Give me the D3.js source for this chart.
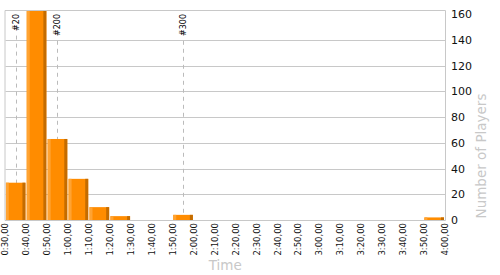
<!DOCTYPE html>
<html>
<head>
<meta charset="utf-8">
<script src="https://cdn.jsdelivr.net/npm/d3@7"></script>
<style>
  html, body { margin: 0; padding: 0; background: #fff; }
  svg { display: block; font-family: "DejaVu Sans", Verdana, sans-serif; }
</style>
</head>
<body>
<div id="chart"></div>
<script>
// Bin edges, minutes (0:30 .. 4:00 every 10 minutes)
const binEdges = d3.range(30, 241, 10);
// Count of players per 10-minute bin (bin start in minutes)
const binStarts = [30, 40, 50, 60, 70, 80, 110, 230];
const playerCounts = [29, 175, 63, 32, 10, 3, 4, 2];
// Rank markers (finish time in minutes)
const markerLabels = ['#20', '#200', '#300'];
const markerTimes = [34.9, 54.8, 114.9];
const yTicks = [0, 20, 40, 60, 80, 100, 120, 140, 160];
const yMax = 163.3;

const W = 500, H = 275;
const plotL = 5.5, plotR = 445, plotT = 10, plotB = 220;

const svg = d3.select('#chart').append('svg')
    .attr('width', W).attr('height', H);

const x = d3.scaleLinear().domain([30, 240]).range([plotL, plotR]);
const y = d3.scaleLinear().domain([0, yMax]).range([plotB, plotT]);

const fmt = m => `${Math.floor(m / 60)}:${String(m % 60).padStart(2, '0')},00`;

// Horizontal grid lines (top border stands in for 160)
svg.append('g').selectAll('line')
    .data(yTicks.filter(t => t > 0 && t < 160)).enter()
    .append('line')
    .attr('x1', plotL).attr('x2', plotR)
    .attr('y1', d => Math.round(y(d)) + 0.5).attr('y2', d => Math.round(y(d)) + 0.5)
    .attr('stroke', '#c8c8c8').attr('stroke-width', 1);

// Rank markers (behind the bars)
const mk = svg.append('g');
markerTimes.forEach((t, i) => {
    const mx = Math.round(x(t)) + 0.5;
    const textLen = markerLabels[i].length * 5.2 + 2;
    mk.append('line')
        .attr('x1', mx).attr('x2', mx)
        .attr('y1', 14 + textLen + 4).attr('y2', plotB)
        .attr('stroke', '#bbb').attr('stroke-dasharray', '4,4');
    mk.append('text')
        .attr('transform', `translate(${mx},14) rotate(-90)`)
        .attr('text-anchor', 'end')
        .attr('dy', '0.35em')
        .attr('font-size', '8px')
        .attr('fill', '#000')
        .text(markerLabels[i]);
});

// Bars, clipped to the plot area
svg.append('clipPath').attr('id', 'plot-clip')
    .append('rect').attr('x', plotL).attr('y', plotT + 0.5)
    .attr('width', plotR - plotL).attr('height', plotB - plotT);

const bw = x(40) - x(30);
const bars = svg.append('g').attr('clip-path', 'url(#plot-clip)')
    .selectAll('g')
    .data(binStarts.map((s, i) => ({ s, v: playerCounts[i] }))).enter()
    .append('g');

bars.append('rect')
    .attr('x', d => x(d.s) + 0.3)
    .attr('y', d => y(d.v))
    .attr('width', bw - 1.3)
    .attr('height', d => plotB - y(d.v))
    .attr('fill', '#ff8c00');
bars.append('rect')
    .attr('x', d => x(d.s) + 0.3)
    .attr('y', d => y(d.v))
    .attr('width', 3)
    .attr('height', d => plotB - y(d.v))
    .attr('fill', '#ffa332');
bars.append('rect')
    .attr('x', d => x(d.s) + bw - 4)
    .attr('y', d => y(d.v))
    .attr('width', 3)
    .attr('height', d => plotB - y(d.v))
    .attr('fill', '#c46c00');

// Plot frame
svg.append('path')
    .attr('fill', 'none').attr('stroke', '#c8c8c8')
    .attr('d', `M${plotL - 0.5},${plotT + 0.5}H${plotR + 0.5}V${plotB + 0.5}H${plotL - 0.5}V${plotT + 0.5}`);

// X tick labels
svg.append('g').selectAll('text')
    .data(binEdges).enter()
    .append('text')
    .attr('transform', d => `translate(${x(d)},223) rotate(-90)`)
    .attr('text-anchor', 'end')
    .attr('dy', '0.35em')
    .attr('font-size', '8.5px')
    .attr('fill', '#111')
    .text(fmt);

// Y tick labels (right side)
svg.append('g').selectAll('text')
    .data(yTicks).enter()
    .append('text')
    .attr('x', 451)
    .attr('y', d => y(d))
    .attr('dy', '0.36em')
    .attr('font-size', '11px')
    .attr('fill', '#111')
    .text(d => d);

// Axis titles
svg.append('text')
    .attr('x', (plotL + plotR) / 2).attr('y', 270)
    .attr('text-anchor', 'middle')
    .attr('font-size', '13.5px')
    .attr('fill', '#c8c8c8')
    .text('Time');

svg.append('text')
    .attr('transform', 'translate(481,156) rotate(-90)')
    .attr('text-anchor', 'middle')
    .attr('dy', '0.35em')
    .attr('font-size', '13.5px')
    .attr('fill', '#c8c8c8')
    .text('Number of Players');
</script>
</body>
</html>
